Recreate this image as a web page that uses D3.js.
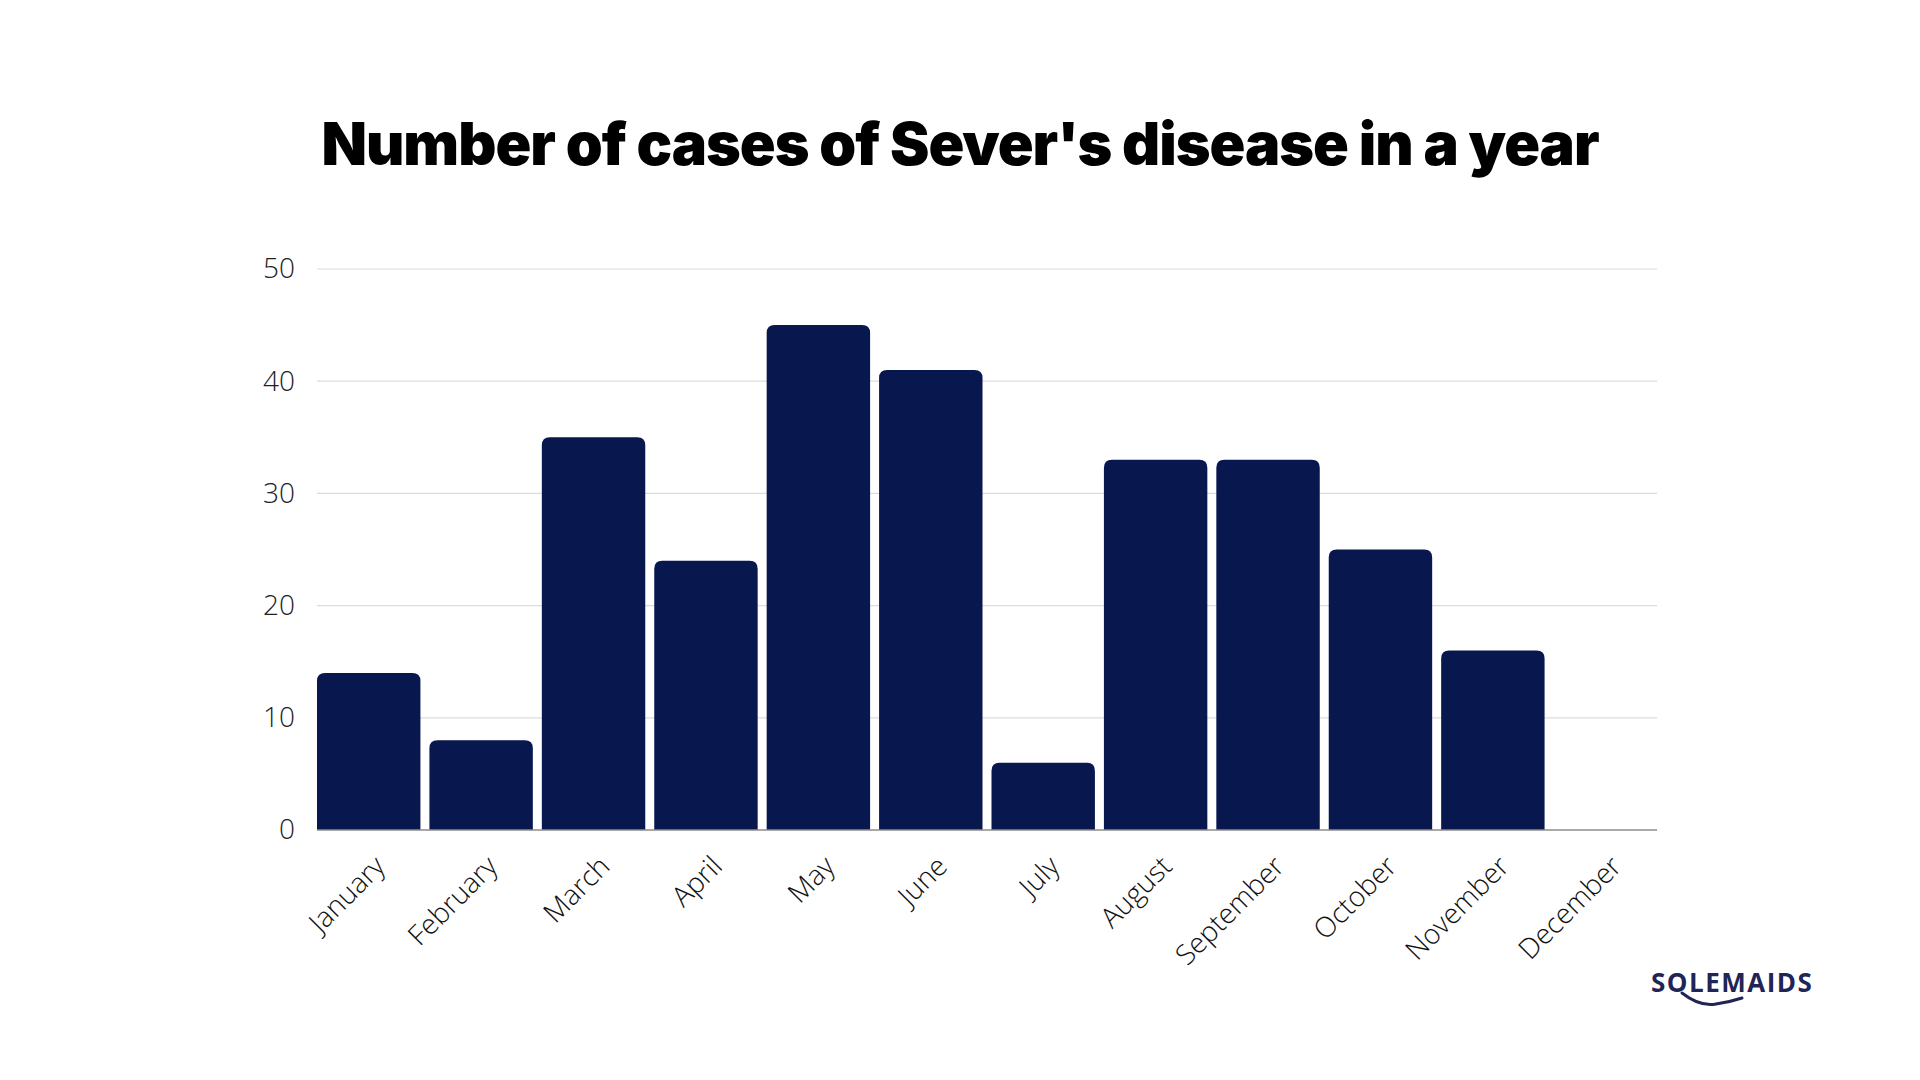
<!DOCTYPE html>
<html>
<head>
<meta charset="utf-8">
<script src="https://cdn.jsdelivr.net/npm/d3@7"></script>
<style>
  html, body { margin: 0; padding: 0; background: #ffffff; }
  svg { display: block; }
</style>
</head>
<body>
<svg id="chart" width="1920" height="1080"></svg>
<script>
const titleText = "Number of cases of Sever's disease in a year";
const months = ["January","February","March","April","May","June","July","August","September","October","November","December"];
const cases = [14, 8, 35, 24, 45, 41, 6, 33, 33, 25, 16, 0];
const yTicks = [0, 10, 20, 30, 40, 50];
const brand = "SOLEMAIDS";

const svg = d3.select("#chart");
const margin = { left: 317, right: 1920 - 1657, top: 269, bottom: 1080 - 830 };
const W = 1920 - margin.left - margin.right;
const H = 1080 - margin.top - margin.bottom;
const barColor = "#09174f";

// Title
const title = svg.append("text")
  .attr("x", 960).attr("y", 165)
  .attr("text-anchor", "middle")
  .style("font-family", "Inter, Lato, sans-serif")
  .style("font-weight", 900)
  .style("font-size", "60px")
  .style("letter-spacing", "-1px")
  .attr("fill", "#000")
  .text(titleText);
const tw = title.node().getComputedTextLength();
title.style("font-size", (60 * 1278 / tw) + "px");

const g = svg.append("g").attr("transform", `translate(${margin.left},${margin.top})`);

const x = d3.scaleBand().domain(months).range([0, W]).paddingInner(0.08).paddingOuter(0);
const y = d3.scaleLinear().domain([0, 50]).range([H, 0]);

// Gridlines
g.append("g").selectAll("line").data(yTicks.filter(d => d > 0)).join("line")
  .attr("x1", 0).attr("x2", W)
  .attr("y1", d => y(d)).attr("y2", d => y(d))
  .attr("stroke", "#dcdcdc").attr("stroke-width", 1.2);

// Y axis labels
const yAxis = d3.axisLeft(y).tickValues(yTicks).tickSize(0).tickPadding(22);
const ya = g.append("g").call(yAxis);
ya.select(".domain").remove();
ya.selectAll("text")
  .style("font-family", "'Open Sans', sans-serif")
  .style("font-weight", 300)
  .style("font-size", "28px")
  .attr("fill", "#222");

// Bars with rounded top corners
const r = 8;
function barPath(d, i) {
  const x0 = x(months[i]), w = x.bandwidth();
  const y0 = y(d), y1 = y(0);
  const h = y1 - y0;
  if (h <= 0) return "";
  const rr = Math.min(r, h, w / 2);
  return `M${x0},${y1} L${x0},${y0 + rr} Q${x0},${y0} ${x0 + rr},${y0} L${x0 + w - rr},${y0} Q${x0 + w},${y0} ${x0 + w},${y0 + rr} L${x0 + w},${y1} Z`;
}
g.append("g").selectAll("path").data(cases).join("path")
  .attr("d", (d, i) => barPath(d, i))
  .attr("fill", barColor);

// Baseline
g.append("line")
  .attr("x1", 0).attr("x2", W).attr("y1", H).attr("y2", H)
  .attr("stroke", "#8c8c8c").attr("stroke-width", 1.5);

// X axis labels
const xAxis = d3.axisBottom(x).tickSize(0).tickPadding(0);
const xa = g.append("g").attr("transform", `translate(0,${H})`).call(xAxis);
xa.select(".domain").remove();
xa.selectAll("text")
  .attr("text-anchor", "end")
  .attr("dy", 0)
  .attr("transform", "translate(18,38) rotate(-45)")
  .style("font-family", "'Open Sans', sans-serif")
  .style("font-weight", 300)
  .style("font-size", "28px")
  .attr("fill", "#111");

// Brand logo
const logo = svg.append("g");
logo.append("text")
  .attr("x", 1651).attr("y", 992)
  .style("font-family", "'Open Sans', sans-serif")
  .style("font-weight", 700)
  .style("font-size", "26px")
  .style("letter-spacing", "1.5px")
  .attr("fill", "#1f2556")
  .text(brand);
logo.append("path")
  .attr("d", "M1682,993 Q1700,1007 1716,1004 Q1730,1002 1742,998")
  .attr("fill", "none")
  .attr("stroke", "#1f2556")
  .attr("stroke-width", 3)
  .attr("stroke-linecap", "round");
</script>
</body>
</html>
